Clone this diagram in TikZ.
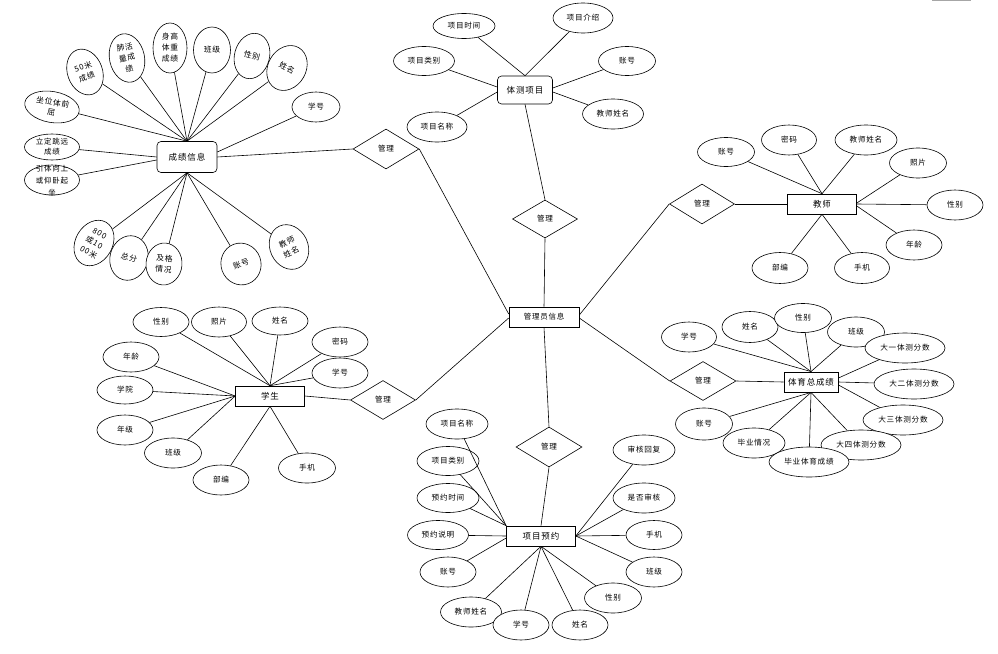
\documentclass[tikz,border=0pt]{standalone}
\usepackage{fontspec}
\newfontfamily\cjk[LetterSpace=10]{Noto Sans CJK SC}
\usetikzlibrary{shapes.geometric,calc}
\tikzset{
  every path/.style={line width=0.6pt},
  attr/.style={ellipse, draw, fill=white, inner sep=0pt, align=center,
    minimum width=56pt, minimum height=30pt, font=\cjk\fontsize{7.6}{9}\selectfont},
  vattr/.style={attr, minimum width=36pt, minimum height=47pt, font=\cjk\fontsize{7.8}{11}\selectfont},
  ent/.style={rectangle, draw, fill=white, inner sep=0pt, minimum width=69pt,
    minimum height=20pt, font=\cjk\fontsize{8.5}{10}\selectfont},
  rent/.style={ent, rounded corners=4pt},
  rel/.style={diamond, draw, fill=white, inner sep=0pt, minimum width=66pt,
    minimum height=40pt, font=\cjk\fontsize{7.6}{9}\selectfont},
}
\begin{document}
\begin{tikzpicture}[x=1pt,y=1pt]
\useasboundingbox (0,0) rectangle (998,-653);
\fill[white] (0,0) rectangle (998,-653);
\draw[gray!70, line width=0.8pt] (932,-0.4) -- (971,-0.4);

% ---------- central ----------
\node[ent, minimum width=70pt, font=\cjk\fontsize{7.5}{9}\selectfont] (gl) at (544,-317) {管理员信息};

% ---------- 成绩信息 ----------
\node[rent, minimum width=60pt, minimum height=31pt] (cj) at (187,-157) {成绩信息};
\node[vattr, rotate=20, minimum width=35pt] (a50) at (85,-72) {50米\\成绩};
\node[vattr, rotate=12, minimum width=35pt, minimum height=49pt] (afh) at (127,-58) {肺活\\量成\\绩};
\node[vattr, minimum width=34pt, minimum height=50pt] (ash) at (170,-48) {身高\\体重\\成绩};
\node[vattr, minimum width=37pt, minimum height=46pt] (abj) at (212,-50) {班级};
\node[vattr, rotate=-15, minimum width=35pt, minimum height=46pt] (axb) at (252,-56) {性别};
\node[vattr, rotate=-30, minimum width=38pt] (axm) at (287,-68) {姓名};
\node[attr, minimum width=48pt] (axh) at (316,-107) {学号};
\node[attr, rotate=-10, minimum width=55pt, minimum height=31pt, font=\cjk\fontsize{7.8}{10}\selectfont] (azw) at (52,-107) {坐位体前\\屈};
\node[attr, minimum width=55pt, minimum height=26pt, font=\cjk\fontsize{7.5}{10}\selectfont] (ald) at (52,-147) {立定跳远\\成绩};
\node[attr, minimum width=55pt, minimum height=30pt] (ayt) at (52,-180) {};
\node[align=center, inner sep=0pt, font=\cjk\fontsize{7.5}{12}\selectfont] (aytt) at (52,-180) {引体向上\\或仰卧起\\坐};
\node[vattr, rotate=-30, minimum width=37pt, minimum height=48pt] (a800) at (94,-243) {800\\或10\\00米};
\node[vattr, rotate=-15, minimum width=38pt, minimum height=45pt] (azf) at (129,-258) {总分};
\node[vattr, rotate=-5, minimum width=36pt, minimum height=42pt] (ajg) at (164,-264) {及格\\情况};
\node[vattr, rotate=20, minimum width=40pt, minimum height=42pt] (azh) at (241,-264) {账号};
\node[vattr, rotate=25, minimum width=38pt, minimum height=46pt] (ajs) at (289,-247) {教师\\姓名};
\node[rel] (m1) at (386,-149) {管理};

\foreach \n in {a50,afh,ash,abj,axb,axm,azw} \draw (\n) -- (cj.north);
\draw (axh) -- ($(cj.east)+(0,5)$);
\draw (ald) -- (cj.west);
\draw (ayt) -- ($(cj.west)+(0,-3)$);
\foreach \n in {a800,azf,ajg,azh,ajs} \draw (\n) -- (cj.south);
\draw (cj.east) -- (m1.west);
\draw (m1.east) -- ($(gl.west)+(0,3)$);

% ---------- 体测项目 ----------
\node[rent, minimum width=55pt, minimum height=28pt] (tc) at (525,-90) {体测项目};
\node[attr, minimum width=62pt, minimum height=25pt] (p1) at (464,-26) {项目时间};
\node[attr, minimum width=60pt] (p2) at (583,-18) {项目介绍};
\node[attr, minimum width=61pt, minimum height=29pt] (p3) at (424,-61) {项目类别};
\node[attr, minimum width=57pt, minimum height=29pt] (p4) at (627,-61) {账号};
\node[attr, minimum width=60pt] (p5) at (437,-127) {项目名称};
\node[attr, minimum width=61pt] (p6) at (613,-114) {教师姓名};
\node[rel, minimum width=65pt, minimum height=38pt] (m2) at (545,-219) {管理};
\draw (p1) -- (tc.north);
\draw (p2) -- (tc.north);
\draw (p3) -- ($(tc.west)+(0,3)$);
\draw (p5) -- ($(tc.west)+(0,-2)$);
\draw (p4) -- ($(tc.east)+(0,2)$);
\draw (p6) -- ($(tc.east)+(0,-2)$);
\draw (tc.south) -- (m2.north);
\draw (m2.south) -- (gl.north);

% ---------- 教师 ----------
\node[ent] (js) at (822,-204) {教师};
\node[rel, minimum width=65pt] (m3) at (702,-204) {管理};
\node[attr, minimum width=57pt, minimum height=29pt] (t1) at (726,-152) {账号};
\node[attr, minimum width=55pt] (t2) at (789,-140) {密码};
\node[attr, minimum width=62pt] (t3) at (866,-140) {教师姓名};
\node[attr, minimum width=57pt] (t4) at (918,-163) {照片};
\node[attr] (t5) at (955,-205) {性别};
\node[attr] (t6) at (914,-245) {年龄};
\node[attr, minimum height=31pt] (t7) at (780,-268) {部编};
\node[attr, minimum width=55pt, minimum height=31pt] (t8) at (862,-268) {手机};
\draw ($(gl.east)+(0,2)$) -- (m3.west);
\draw (m3.east) -- (js.west);
\foreach \n in {t1,t2,t3} \draw (\n) -- (js.north);
\draw (t4) -- ($(js.east)+(0,1)$);
\draw (t5) -- (js.east);
\draw (t6) -- ($(js.east)+(0,-2)$);
\foreach \n in {t7,t8} \draw (\n) -- (js.south);

% ---------- 体育总成绩 ----------
\node[ent, minimum width=54pt, line width=0.9pt] (ty) at (811,-382) {体育总成绩};
\node[rel, minimum height=39pt] (m4) at (703,-381) {管理};
\node[attr, minimum width=55pt] (s1) at (689,-337) {学号};
\node[attr, minimum height=31pt] (s2) at (750,-327) {姓名};
\node[attr, minimum width=57pt, minimum height=29pt] (s3) at (803,-318) {性别};
\node[attr, minimum width=57pt] (s4) at (856,-332) {班级};
\node[attr, minimum width=80pt] (s5) at (905,-348) {大一体测分数};
\node[attr, minimum width=80pt] (s6) at (914,-384) {大二体测分数};
\node[attr, minimum width=80pt] (s7) at (903,-420) {大三体测分数};
\node[attr, minimum width=80pt] (s8) at (861,-445) {大四体测分数};
\node[attr, minimum width=62pt] (s10) at (754,-443) {毕业情况};
\node[attr, minimum width=80pt] (s9) at (809,-462) {毕业体育成绩};
\node[attr, minimum width=57pt, minimum height=32pt] (s11) at (704,-424) {账号};
\draw ($(gl.east)+(0,-1)$) -- (m4.west);
\draw (m4.east) -- (ty.west);
\foreach \n in {s1,s2,s3,s4} \draw (\n) -- (ty.north);
\draw (s5) -- ($(ty.east)+(0,4)$);
\draw (s6) -- (ty.east);
\draw (s7) -- ($(ty.east)+(0,-3)$);
\foreach \n in {s8,s9,s10,s11} \draw (\n) -- (ty.south);

% ---------- 学生 ----------
\node[ent] (xs) at (270,-396) {学生};
\node[rel, minimum width=65pt, minimum height=39pt] (m5) at (383,-400) {管理};
\node[attr, minimum height=29pt] (u1) at (161,-322) {性别};
\node[attr, minimum width=55pt] (u2) at (219,-322) {照片};
\node[attr, minimum height=28pt] (u3) at (280,-321) {姓名};
\node[attr] (u4) at (340,-342) {密码};
\node[attr] (u5) at (340,-373) {学号};
\node[attr] (u6) at (131,-357) {年龄};
\node[attr, minimum height=28pt] (u7) at (125,-390) {学院};
\node[attr] (u8) at (125,-430) {年级};
\node[attr, minimum width=57pt] (u9) at (173,-453) {班级};
\node[attr] (u10) at (221,-480) {部编};
\node[attr, minimum width=57pt] (u11) at (307,-468) {手机};
\draw (xs.east) -- (m5.west);
\draw (m5.east) -- ($(gl.west)+(0,-1)$);
\foreach \n in {u1,u2,u3,u4,u5} \draw (\n) -- (xs.north);
\foreach \n in {u6,u7,u8,u9} \draw (\n) -- (xs.west);
\foreach \n in {u10,u11} \draw (\n) -- (xs.south);

% ---------- 项目预约 ----------
\node[ent] (yy) at (541,-536) {项目预约};
\node[rel] (m6) at (549,-447) {管理};
\node[attr, minimum width=62pt] (v1) at (457,-424) {项目名称};
\node[attr, minimum width=62pt, minimum height=29pt] (v2) at (448,-461) {项目类别};
\node[attr, minimum width=62pt, minimum height=29pt] (v3) at (448,-498) {预约时间};
\node[attr, minimum width=61pt, minimum height=29pt] (v4) at (438,-535) {预约说明};
\node[attr] (v5) at (448,-572) {账号};
\node[attr, minimum width=61pt] (v6) at (471,-612) {教师姓名};
\node[attr] (v7) at (521,-625) {学号};
\node[attr] (v8) at (580,-625) {姓名};
\node[attr, minimum width=57pt] (v9) at (613,-598) {性别};
\node[attr] (v10) at (654,-572) {班级};
\node[attr, minimum height=29pt] (v11) at (654,-535) {手机};
\node[attr, minimum width=62pt] (v12) at (644,-498) {是否审核};
\node[attr, minimum width=62pt] (v13) at (644,-450) {审核回复};
\draw (gl.south) -- (m6.north);
\draw (m6.south) -- (yy.north);
\foreach \n in {v1,v2,v3} \draw (\n) -- (yy.north west);
\draw (v4) -- (yy.west);
\draw (v5) -- ($(yy.west)+(0,-2)$);
\foreach \n in {v6,v7,v8,v9} \draw (\n) -- (yy.south);
\foreach \n in {v10,v11,v12,v13} \draw (\n) -- (yy.east);
\end{tikzpicture}
\end{document}
